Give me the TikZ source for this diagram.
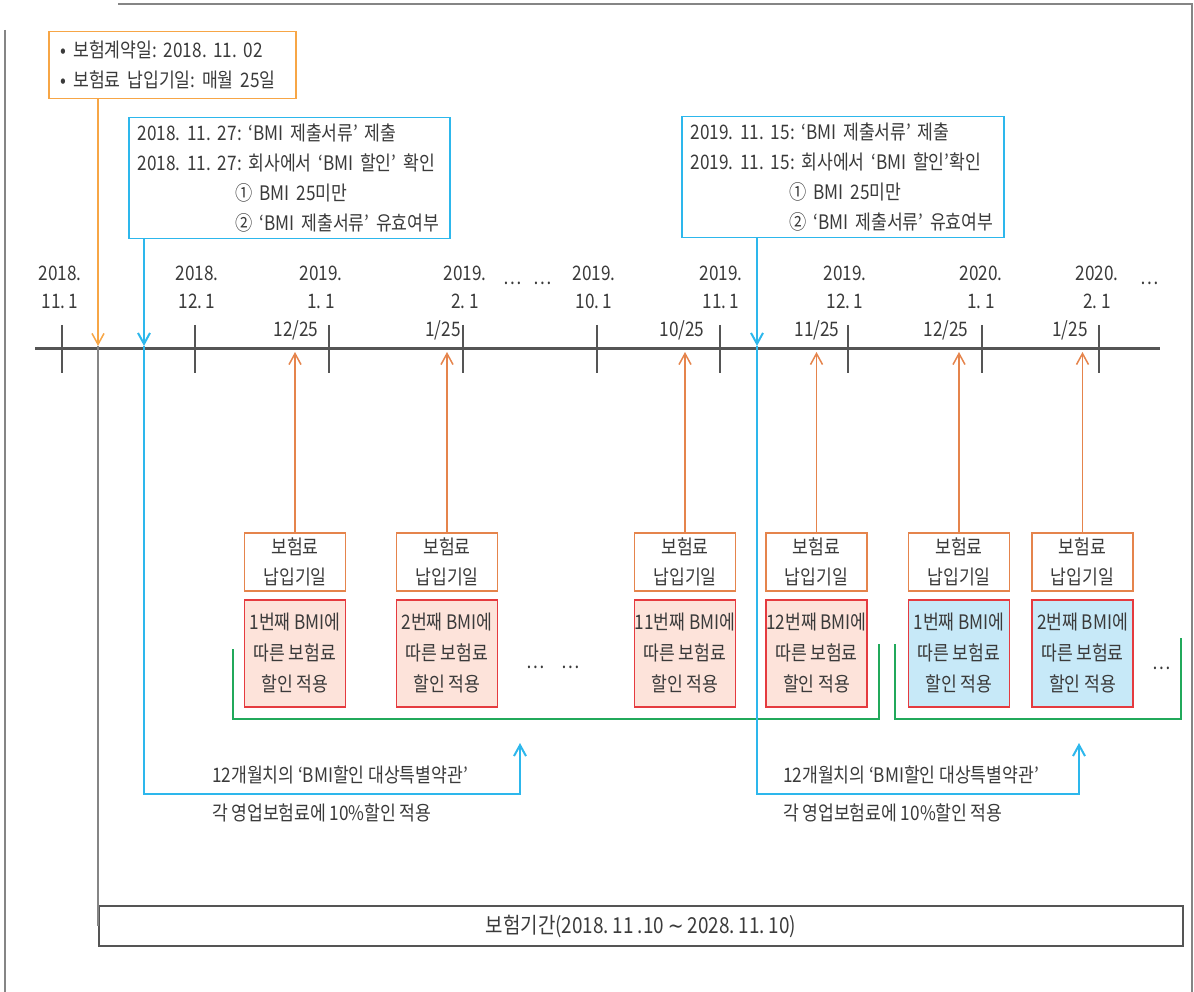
\documentclass[tikz,border=0pt]{standalone}
\usepackage{fontspec}
\setmainfont{Noto Sans CJK KR}[FakeStretch=0.86,WordSpace=0.9]
\newfontfamily\symfont{DejaVu Sans}[FakeStretch=0.86]
\usetikzlibrary{arrows.meta,positioning}
\frenchspacing

\definecolor{axisgray}{HTML}{555555}
\definecolor{framegray}{HTML}{858585}
\definecolor{txtgray}{HTML}{3A3A3A}
\definecolor{lightorange}{HTML}{F7A646}
\definecolor{payorange}{HTML}{E5844C}
\definecolor{skyblue}{HTML}{2DB7EC}
\definecolor{bmired}{HTML}{E53B3F}
\definecolor{bmipink}{HTML}{FDE3DA}
\definecolor{bmiblue}{HTML}{C7E9F8}
\definecolor{bracketgreen}{HTML}{21A95B}

\tikzset{
  txt/.style={text=txtgray,font=\fontsize{20}{30}\selectfont,inner sep=0pt},
  datelab/.style={txt,align=center,font=\fontsize{20}{28}\selectfont},
  frameline/.style={draw=framegray,line width=2pt},
  axisline/.style={draw=axisgray,line width=3pt},
  tickline/.style={draw=axisgray,line width=2.5pt},
  obox/.style={txt,draw=lightorange,line width=1.5pt,align=left,minimum width=247pt,minimum height=67pt,text width=223pt,inner xsep=12pt},
  bbox/.style={txt,draw=skyblue,line width=1.5pt,align=left,minimum height=121pt,inner xsep=9pt},
  paybox/.style={txt,draw=payorange,line width=1.5pt,align=center,minimum width=101pt,minimum height=58pt},
  bmibox/.style={txt,draw=bmired,line width=1.5pt,align=center,minimum width=101pt,minimum height=107pt,font=\fontsize{20}{31}\selectfont},
  periodbox/.style={txt,draw=axisgray,line width=2pt,minimum width=1084pt,minimum height=40pt,font=\fontsize{22}{30}\selectfont},
  contractline/.style={draw=lightorange,line width=1.5pt},
  payline/.style={draw=payorange,line width=1.5pt},
  subline/.style={draw=skyblue,line width=2pt},
  periodline/.style={draw=framegray,line width=1.5pt},
  bracket/.style={draw=bracketgreen,line width=1.5pt}
}

\begin{document}
\begin{tikzpicture}[x=1pt,y=-1pt,>={Straight Barb[length=11pt,width=12pt]}]
\useasboundingbox (0,0) rectangle (1194,992);
\draw[frameline] (118,4) -- (1192,4) -- (1192,992);
\draw[frameline] (5,30) -- (5,992);

\node[obox,anchor=north west] (contract) at (48,31) {• 보험계약일: 2018. 11. 02\\• 보험료 납입기일: 매월 25일};
\node[bbox,anchor=north west,minimum width=321pt,text width=303pt] (check1) at (128,117) {2018. 11. 27: ‘BMI 제출서류’ 제출\\2018. 11. 27: 회사에서 ‘BMI 할인’ 확인\\\hspace*{98pt}① BMI 25미만\\\hspace*{98pt}② ‘BMI 제출서류’ 유효여부};
\node[bbox,anchor=north west,minimum width=322pt,text width=304pt] (check2) at (681,116) {2019. 11. 15: ‘BMI 제출서류’ 제출\\2019. 11. 15: 회사에서 ‘BMI 할인’확인\\\hspace*{99pt}① BMI 25미만\\\hspace*{99pt}② ‘BMI 제출서류’ 유효여부};

\coordinate (tl0) at (35,348);
\coordinate (tl1) at (1160,348);
\coordinate (tipline) at (0,352);
\draw[axisline] (tl0) -- (tl1);
\foreach \x/\lx/\yr/\md in {62/60/2018/11,195/197/2018/12,329/321/2019/1,463/465/2019/2,597/594/2019/10,720/721/2019/11,848/845/2019/12,982/981/2020/1,1099/1097/2020/2}
{
  \draw[tickline] (\x,325) -- (\x,373);
  \node[datelab] (date\x) at (\lx,287) {\yr.\\\md. 1};
}
\node[txt] (dotsA) at (528,283) {…\hspace{12pt}…};
\node[txt] (dotsB) at (1150,283) {…};

\foreach \i/\x/\lx/\m/\n/\c in {1/295/296/12/1/bmipink,2/447/443/1/2/bmipink,3/685/682/10/11/bmipink,4/816.5/817/11/12/bmipink,5/959/946/12/1/bmiblue,6/1082.5/1070/1/2/bmiblue}
{
  \node[paybox] (pay\i) at (\x,562) {보험료\\납입기일};
  \node[bmibox,fill=\c] (bmi\i) at (\x,653.5) {\n{}번째 BMI에\\따른 보험료\\할인 적용};
  \node[txt] (due\i) at (\lx,330) {\m/25};
  \draw[payline,->] (pay\i.north) -- (pay\i.north |- tipline);
}
\node[txt] (dotsC) at (553,667) {…\hspace{16pt}…};
\node[txt] (dotsD) at (1162,668) {…};

\draw[bracket] (233,649) |- (879,719) -- (879,644);
\draw[bracket] (895,644) |- (1181,719) -- (1181,638);

\coordinate (sign) at (98,346);
\coordinate (sub1) at (144,346);
\coordinate (sub2) at (757,346);
\node[periodbox] (period) at (641,926) {보험기간(2018. 11 .10 {\symfont ∼} 2028. 11. 10)};
\draw[contractline,->] (contract.south -| sign) -- (sign);
\draw[periodline] (sign) -- (sign |- period.west);

\draw[subline,->] (check1.south -| sub1) -- (sub1);
\draw[subline,->] (sub1) -- (144,794) -| (520,743);
\node[txt,anchor=west] (term1) at (212,775) {12개월치의 ‘BMI할인 대상특별약관’};
\node[txt,anchor=west] (rate1) at (212,813) {각 영업보험료에 10\%할인 적용};

\draw[subline,->] (check2.south -| sub2) -- (sub2);
\draw[subline,->] (sub2) -- (757,794) -| (1079,743);
\node[txt,anchor=west] (term2) at (783,775) {12개월치의 ‘BMI할인 대상특별약관’};
\node[txt,anchor=west] (rate2) at (783,813) {각 영업보험료에 10\%할인 적용};
\end{tikzpicture}
\end{document}
